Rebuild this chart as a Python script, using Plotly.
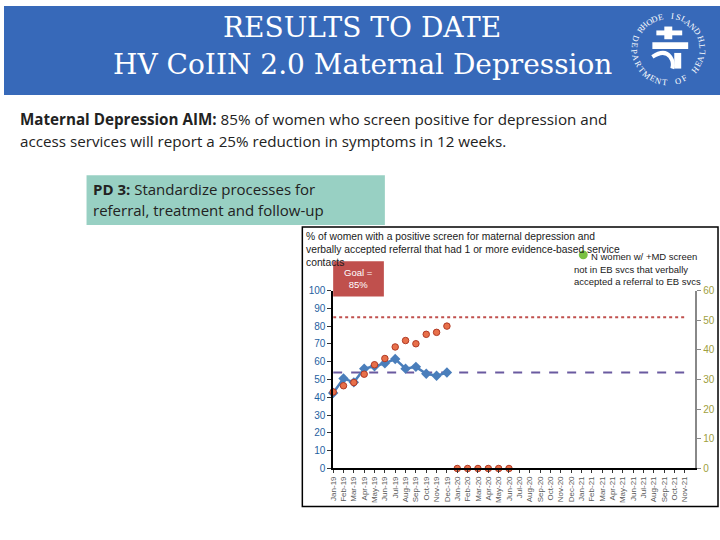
import math
import plotly.graph_objects as go

# ---------------- data ----------------
months = ["Jan-19", "Feb-19", "Mar-19", "Apr-19", "May-19", "Jun-19", "Jul-19", "Aug-19",
          "Sep-19", "Oct-19", "Nov-19", "Dec-19", "Jan-20", "Feb-20", "Mar-20", "Apr-20",
          "May-20", "Jun-20", "Jul-20", "Aug-20", "Sep-20", "Oct-20", "Nov-20", "Dec-20",
          "Jan-21", "Feb-21", "Mar-21", "Apr-21", "May-21", "Jun-21", "Jul-21", "Aug-21",
          "Sep-21", "Oct-21", "Nov-21"]

pct_months = months[:12]
pct_values = [42.4, 50.6, 48.4, 56.1, 57.4, 59.1, 61.5, 56.1, 57.1, 53.2, 52.1, 53.9]

dot_months = months[:18]
dot_values = [43, 46.5, 48.3, 53, 58.3, 61.8, 68.3, 71.9, 70.1, 75.4, 76.5, 80,
              0, 0, 0, 0, 0, 0]

goal_value = 85
median_value = 54

left_ticks = [0, 10, 20, 30, 40, 50, 60, 70, 80, 90, 100]
right_ticks = [0, 10, 20, 30, 40, 50, 60]

W, H = 720, 540
PAD = 4  # annotation inner padding compensation


def px(x):
    return x / W


def py(y):
    return 1 - y / H


fig = go.Figure()

# goal line & median line
fig.add_trace(go.Scatter(x=[months[0], months[-1]], y=[goal_value, goal_value],
                         mode="lines", line=dict(color="#c0504d", width=2, dash="dot"),
                         hoverinfo="skip", showlegend=False))
fig.add_trace(go.Scatter(x=[months[0], months[-1]], y=[median_value, median_value],
                         mode="lines", line=dict(color="#6a5aa0", width=2, dash="dash"),
                         hoverinfo="skip", showlegend=False))
fig.add_trace(go.Scatter(x=pct_months, y=pct_values, mode="lines+markers",
                         line=dict(color="#4a7ebb", width=2.5),
                         marker=dict(symbol="diamond", size=8, color="#4a7ebb"),
                         cliponaxis=False, showlegend=False))
fig.add_trace(go.Scatter(x=dot_months, y=dot_values, mode="markers",
                         marker=dict(symbol="circle", size=6.5, color="#e8704a",
                                     line=dict(color="#b03a25", width=1)),
                         cliponaxis=False, showlegend=False))
# invisible trace for right axis
fig.add_trace(go.Scatter(x=[months[0]], y=[0], yaxis="y2", mode="markers",
                         marker=dict(opacity=0), hoverinfo="skip", showlegend=False))

x0, x1 = 331, 695
ytop, ybot = 291, 473

fig.update_layout(
    width=W, height=H,
    margin=dict(l=0, r=0, t=0, b=0),
    paper_bgcolor="white", plot_bgcolor="white",
    xaxis=dict(domain=[px(x0), px(x1)], type="category", categoryarray=months,
               categoryorder="array", range=[0, 35],
               tickmode="array", tickvals=months, ticktext=months,
               tickangle=-90, tickfont=dict(family="Liberation Sans", size=8, color="#595959"),
               showline=True, linecolor="black", linewidth=1.5,
               ticks="outside", ticklen=3, tickcolor="#333", showgrid=False, zeroline=False,
               anchor="y"),
    yaxis=dict(domain=[py(ybot), py(ytop)], range=[0, 100], tickvals=left_ticks,
               tickfont=dict(family="Liberation Sans", size=10, color="#1f5f9f"),
               showline=True, linecolor="black", linewidth=1.5, ticks="outside",
               ticklen=4, tickcolor="#333", showgrid=False, zeroline=False, anchor="x"),
    yaxis2=dict(domain=[py(ybot), py(ytop)], range=[0, 60], tickvals=right_ticks,
                overlaying="y", side="right", anchor="x",
                tickfont=dict(family="Liberation Sans", size=10, color="#a0a040"),
                showline=True, linecolor="#888888", linewidth=2, ticks="outside",
                ticklen=4, tickcolor="#888", showgrid=False, zeroline=False),
    showlegend=False,
)

shapes = []
annotations = []

# header banner
shapes.append(dict(type="rect", xref="paper", yref="paper", x0=0, x1=1, y0=py(91), y1=1,
                   fillcolor="#3769b9", line=dict(width=0), layer="below"))
title_font = dict(family="DejaVu Serif", size=28, color="white")
annotations.append(dict(xref="paper", yref="paper", x=px(360), y=py(22), text="RESULTS TO DATE",
                        showarrow=False, xanchor="center", yanchor="middle", font=title_font))
annotations.append(dict(xref="paper", yref="paper", x=px(360), y=py(60),
                        text="HV CoIIN 2.0 Maternal Depression",
                        showarrow=False, xanchor="center", yanchor="middle", font=title_font))

# logo ring text
cx, cy, r = 668, 44, 34
top_txt = "RHODE ISLAND"
a0, a1 = 145, 32
for i, ch in enumerate(top_txt):
    th = a0 + (a1 - a0) * i / (len(top_txt) - 1)
    x = cx + r * math.cos(math.radians(th))
    y = cy - r * math.sin(math.radians(th))
    if ch != " ":
        annotations.append(dict(xref="paper", yref="paper", x=px(x), y=py(y), text=ch,
                                showarrow=False, textangle=90 - th, xanchor="center",
                                yanchor="middle",
                                font=dict(family="Liberation Serif", size=8.5, color="white")))
bot_txt = "DEPARTMENT OF HEALTH"
b0, b1 = 162, 378
for i, ch in enumerate(bot_txt):
    th = b0 + (b1 - b0) * i / (len(bot_txt) - 1)
    x = cx + r * math.cos(math.radians(th))
    y = cy - r * math.sin(math.radians(th))
    if ch != " ":
        annotations.append(dict(xref="paper", yref="paper", x=px(x), y=py(y), text=ch,
                                showarrow=False, textangle=270 - th, xanchor="center",
                                yanchor="middle",
                                font=dict(family="Liberation Serif", size=8.5, color="white")))
# logo center symbol
for (ax0, ay0, ax1, ay1) in [(664, 21, 672, 34), (652, 37, 688, 44), (656, 25, 682, 30),
                             (674, 48, 681, 64)]:
    shapes.append(dict(type="rect", xref="paper", yref="paper", x0=px(ax0), x1=px(ax1),
                       y0=py(ay1), y1=py(ay0), fillcolor="white", line=dict(width=0)))
shapes.append(dict(type="path", xref="paper", yref="paper",
                   path=f"M {px(652)},{py(52)} Q {px(664)},{py(44)} {px(670)},{py(52)} "
                        f"Q {px(674)},{py(58)} {px(672)},{py(64)}",
                   line=dict(color="white", width=4)))

# aim text
body_font = dict(family="Open Sans", size=15.2, color="#222222")
annotations.append(dict(xref="paper", yref="paper", x=px(18 - PAD), y=py(116),
                        text="<b>Maternal Depression AIM:</b> 85% of women who screen positive for depression and",
                        showarrow=False, xanchor="left", yanchor="middle", font=body_font))
annotations.append(dict(xref="paper", yref="paper", x=px(18 - PAD), y=py(138),
                        text="access services will report a 25% reduction in symptoms in 12 weeks.",
                        showarrow=False, xanchor="left", yanchor="middle", font=body_font))

# PD 3 box
shapes.append(dict(type="rect", xref="paper", yref="paper", x0=px(83), x1=px(383),
                   y0=py(224), y1=py(173), fillcolor="#98d0c3", line=dict(width=0),
                   layer="below"))
pd_font = dict(family="Open Sans", size=15, color="#222222")
annotations.append(dict(xref="paper", yref="paper", x=px(91 - PAD), y=py(187),
                        text="<b>PD 3:</b> Standardize processes for",
                        showarrow=False, xanchor="left", yanchor="middle", font=pd_font))
annotations.append(dict(xref="paper", yref="paper", x=px(91 - PAD), y=py(209),
                        text="referral, treatment and follow-up",
                        showarrow=False, xanchor="left", yanchor="middle", font=pd_font))

# chart frame
shapes.append(dict(type="rect", xref="paper", yref="paper", x0=px(300), x1=px(718),
                   y0=py(512), y1=py(226), line=dict(color="black", width=1.5),
                   fillcolor="white", layer="below"))

# chart title
for yy, t in [(236, "% of women with a positive screen for maternal depression and"),
              (249, "verbally accepted referral that had 1 or more evidence-based service"),
              (262, "contacts")]:
    annotations.append(dict(xref="paper", yref="paper", x=px(306 - PAD), y=py(yy), text=t,
                            showarrow=False, xanchor="left", yanchor="middle",
                            font=dict(family="Liberation Sans", size=10.3, color="#1a1a1a")))

# goal box
shapes.append(dict(type="rect", xref="paper", yref="paper", x0=px(331), x1=px(382),
                   y0=py(297), y1=py(261), fillcolor="#c0504d", line=dict(width=0)))
annotations.append(dict(xref="paper", yref="paper", x=px(356.5), y=py(279),
                        text="Goal =<br>85%", showarrow=False, xanchor="center",
                        yanchor="middle",
                        font=dict(family="Liberation Sans", size=9.5, color="white")))

# legend
shapes.append(dict(type="circle", xref="paper", yref="paper", x0=px(578), x1=px(587),
                   y0=py(259), y1=py(250), fillcolor="#7ac143", line=dict(width=0)))
for yy, xx, t in [(256, 592, "N women w/ +MD screen"),
                  (269, 575, "not in EB svcs that verbally"),
                  (282, 575, "accepted a referral to EB svcs")]:
    annotations.append(dict(xref="paper", yref="paper", x=px(xx - PAD), y=py(yy), text=t,
                            showarrow=False, xanchor="left", yanchor="middle",
                            font=dict(family="Liberation Sans", size=9.5, color="#1a1a1a")))

fig.update_layout(shapes=shapes, annotations=annotations)
fig.write_html("out.html", config={"displayModeBar": False},
               post_script="document.body.style.margin='0';document.body.style.overflow='hidden';")
